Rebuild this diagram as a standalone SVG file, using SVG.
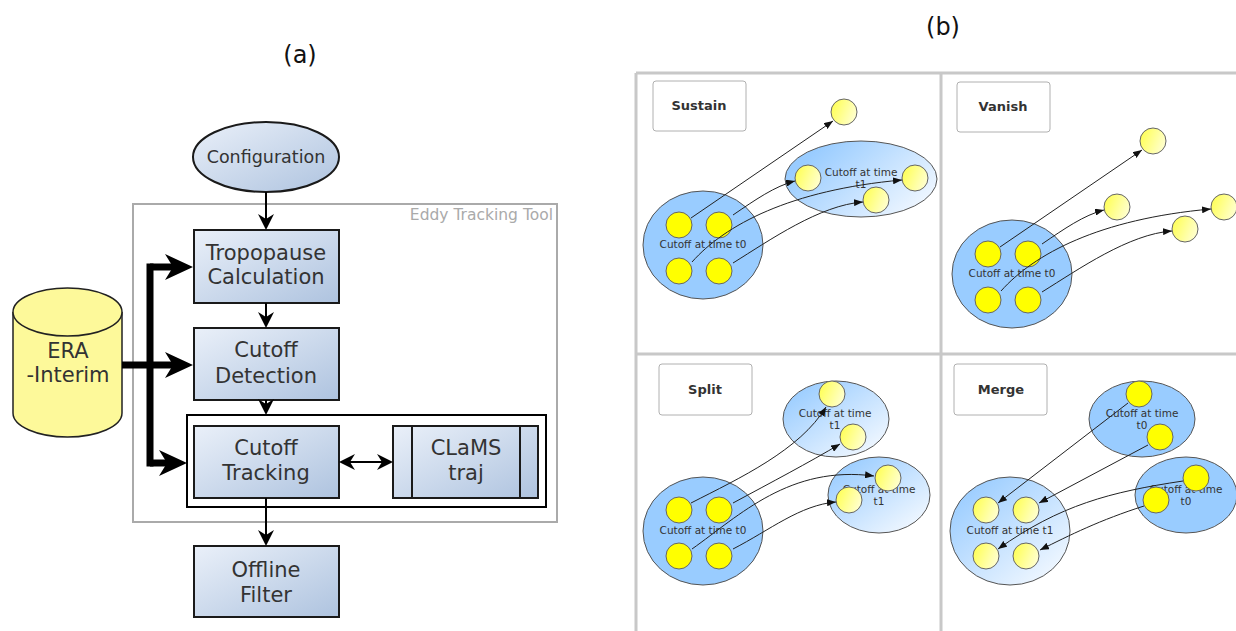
<svg xmlns="http://www.w3.org/2000/svg" width="1236" height="631" viewBox="0 0 1236 631">
<defs>
<linearGradient id="gBox" x1="0" y1="0" x2="1" y2="1"><stop offset="0" stop-color="#eaf0f9"/><stop offset="1" stop-color="#aec3df"/></linearGradient>
<linearGradient id="gEll" x1="0.1" y1="0.3" x2="1" y2="0.8"><stop offset="0" stop-color="#99ccff"/><stop offset="1" stop-color="#f4f9ff"/></linearGradient>
<linearGradient id="gEll2" x1="0.1" y1="0.1" x2="0.9" y2="0.95"><stop offset="0" stop-color="#99ccff"/><stop offset="1" stop-color="#f4f9ff"/></linearGradient>
<linearGradient id="gYel" x1="0" y1="0.3" x2="1" y2="0.7"><stop offset="0" stop-color="#ffff55"/><stop offset="1" stop-color="#ffffd5"/></linearGradient>
<marker id="aThin" viewBox="0 0 16 16" refX="9" refY="8" markerWidth="16" markerHeight="16" markerUnits="userSpaceOnUse" orient="auto"><path d="M0,0 L16,8 L0,16 L5,8 z" fill="#000"/></marker>
<marker id="aThinS" viewBox="0 0 16 16" refX="9" refY="8" markerWidth="16" markerHeight="16" markerUnits="userSpaceOnUse" orient="auto-start-reverse"><path d="M0,0 L16,8 L0,16 L5,8 z" fill="#000"/></marker>
<marker id="aThick" viewBox="0 0 28 26" refX="10" refY="13" markerWidth="28" markerHeight="26" markerUnits="userSpaceOnUse" orient="auto"><path d="M0,0 L28,13 L0,26 L8,13 z" fill="#000"/></marker>
<marker id="aSmall" viewBox="0 0 9 7" refX="9" refY="3.5" markerWidth="9" markerHeight="7" markerUnits="userSpaceOnUse" orient="auto"><path d="M0,0 L9,3.5 L0,7 z" fill="#111"/></marker>
</defs>
<style>
.box{fill:url(#gBox);stroke:#1a1a1a;stroke-width:2}
.bt{font-family:"DejaVu Sans",sans-serif;font-size:21px;fill:#333;text-anchor:middle}
.thin{fill:none;stroke:#000;stroke-width:2;marker-end:url(#aThin)}
.thick{fill:none;stroke:#000;stroke-width:7;marker-end:url(#aThick)}
.cap{font-family:"DejaVu Sans",sans-serif;font-size:24px;fill:#111;text-anchor:middle}
.grid{stroke:#c8c8c8;stroke-width:3;fill:none}
.lbl{fill:#fff;stroke:#b0b0b0;stroke-width:1}
.lt{font-family:"DejaVu Sans",sans-serif;font-size:13px;font-weight:bold;fill:#333;text-anchor:middle}
.t0{fill:#99ccff;stroke:#555;stroke-width:1}
.t1{fill:url(#gEll);stroke:#555;stroke-width:1}
.t1b{fill:url(#gEll2);stroke:#555;stroke-width:1}
.cy{fill:#ffff00;stroke:#666;stroke-width:1}
.cg{fill:url(#gYel);stroke:#666;stroke-width:1}
.st{font-family:"DejaVu Sans",sans-serif;font-size:10.5px;fill:#333;text-anchor:middle}
.ar{fill:none;stroke:#222;stroke-width:1;marker-end:url(#aSmall)}
</style>
<rect width="1236" height="631" fill="#fff"/>

<!-- Panel (a) -->
<text class="cap" x="300" y="63">(a)</text>
<g id="eddy-tool">
<rect x="133" y="204" width="424" height="318" fill="none" stroke="#aaaaaa" stroke-width="2"/>
<text x="553" y="220" font-family="DejaVu Sans, sans-serif" font-size="15.5px" fill="#aaaaaa" text-anchor="end">Eddy Tracking Tool</text>
</g>
<g id="configuration">
<ellipse cx="266" cy="157" rx="73" ry="35" fill="url(#gBox)" stroke="#1a1a1a" stroke-width="2"/>
<text x="266" y="163" font-family="DejaVu Sans, sans-serif" font-size="17.5px" fill="#333" text-anchor="middle">Configuration</text>
</g>
<g id="era-interim">
<path d="M13,312 V413 A54.5,24 0 0 0 122,413 V312" fill="#fdf99a" stroke="#222" stroke-width="1.5"/>
<ellipse cx="67.5" cy="312" rx="54.5" ry="24" fill="#fdf99a" stroke="#222" stroke-width="1.5"/>
<text class="bt" x="68" y="358" font-size="21.5px">ERA</text>
<text class="bt" x="68" y="382" font-size="21.5px">-Interim</text>
</g>
<g id="tropopause">
<rect class="box" x="194" y="230" width="145" height="73"/>
<text class="bt" x="266" y="260">Tropopause</text>
<text class="bt" x="266" y="284">Calculation</text>
</g>
<g id="detection">
<rect class="box" x="194" y="328" width="145" height="72"/>
<text class="bt" x="266" y="357">Cutoff</text>
<text class="bt" x="266" y="383">Detection</text>
</g>
<g id="tracking-group">
<rect x="187" y="415" width="359" height="92" fill="none" stroke="#000" stroke-width="2"/>
</g>
<g id="tracking">
<rect class="box" x="194" y="426" width="145" height="72"/>
<text class="bt" x="266" y="455">Cutoff</text>
<text class="bt" x="266" y="480">Tracking</text>
</g>
<g id="clams">
<rect class="box" x="393" y="426" width="145" height="72"/>
<line x1="412" y1="426" x2="412" y2="498" stroke="#1a1a1a" stroke-width="2"/>
<line x1="520" y1="426" x2="520" y2="498" stroke="#1a1a1a" stroke-width="2"/>
<text class="bt" x="466" y="455">CLaMS</text>
<text class="bt" x="466" y="480">traj</text>
</g>
<g id="offline">
<rect class="box" x="194" y="546" width="145" height="71"/>
<text class="bt" x="266" y="577">Offline</text>
<text class="bt" x="266" y="602">Filter</text>
</g>
<g id="connectors-a">
<path class="thin" d="M266,192 V223"/>
<path class="thin" d="M266,303 V321"/>
<path class="thin" d="M266,400 V408"/>
<path class="thin" d="M266,498 V539"/>
<path d="M346,462 H386" fill="none" stroke="#000" stroke-width="2" marker-start="url(#aThinS)" marker-end="url(#aThin)"/>
<path d="M150,263.5 V466.5" fill="none" stroke="#000" stroke-width="7"/>
<path class="thick" d="M150,267 H175"/>
<path class="thick" d="M122,365 H175"/>
<path class="thick" d="M150,463 H169"/>
</g>

<!-- Panel (b) -->
<text class="cap" x="943" y="35">(b)</text>
<g id="grid">
<path class="grid" d="M636,73 H1236 M636,73 V631 M941,73 V631 M636,354 H1236"/>
</g>

<g id="sustain">
<rect class="lbl" x="653" y="81" width="93" height="50" rx="3"/>
<text class="lt" x="699" y="110">Sustain</text>
<ellipse class="t0" cx="703" cy="245" rx="60" ry="54"/>
<text class="st" x="703" y="248">Cutoff at time t0</text>
<ellipse class="t1" cx="861" cy="179" rx="76" ry="38"/>
<text class="st" x="861" y="176">Cutoff at time</text>
<text class="st" x="861" y="188">t1</text>
<circle class="cy" cx="679" cy="225" r="13"/><circle class="cy" cx="719" cy="225" r="13"/>
<circle class="cy" cx="679" cy="271" r="13"/><circle class="cy" cx="719" cy="271" r="13"/>
<circle class="cg" cx="844" cy="112" r="13"/>
<circle class="cg" cx="808" cy="178" r="13"/><circle class="cg" cx="915" cy="178" r="13"/><circle class="cg" cx="876" cy="200" r="13"/>
<path class="ar" d="M691,218 L833,121"/>
<path class="ar" d="M733,215 C755,200 775,186 795,181"/>
<path class="ar" d="M692,262 C725,225 790,190 902,180"/>
<path class="ar" d="M733,263 C770,240 820,205 863,202"/>
</g>

<g id="vanish">
<rect class="lbl" x="957" y="82" width="93" height="50" rx="3"/>
<text class="lt" x="1003" y="111">Vanish</text>
<g transform="translate(309,29)">
<ellipse class="t0" cx="703" cy="245" rx="60" ry="54"/>
<text class="st" x="703" y="248">Cutoff at time t0</text>
<circle class="cy" cx="679" cy="225" r="13"/><circle class="cy" cx="719" cy="225" r="13"/>
<circle class="cy" cx="679" cy="271" r="13"/><circle class="cy" cx="719" cy="271" r="13"/>
<circle class="cg" cx="844" cy="112" r="13"/>
<circle class="cg" cx="808" cy="178" r="13"/><circle class="cg" cx="915" cy="178" r="13"/><circle class="cg" cx="876" cy="200" r="13"/>
<path class="ar" d="M691,218 L833,121"/>
<path class="ar" d="M733,215 C755,200 775,186 795,181"/>
<path class="ar" d="M692,262 C725,225 790,190 902,180"/>
<path class="ar" d="M733,263 C770,240 820,205 863,202"/>
</g>
</g>

<g id="split">
<rect class="lbl" x="659" y="364" width="93" height="51" rx="3"/>
<text class="lt" x="705" y="394">Split</text>
<ellipse class="t0" cx="703" cy="531" rx="60" ry="54"/>
<text class="st" x="703" y="534">Cutoff at time t0</text>
<ellipse class="t1b" cx="836" cy="419" rx="53" ry="38"/>
<text class="st" x="835" y="417">Cutoff at time</text>
<text class="st" x="835" y="429">t1</text>
<ellipse class="t1b" cx="879" cy="495" rx="51" ry="38"/>
<text class="st" x="879" y="493">Cutoff at time</text>
<text class="st" x="879" y="505">t1</text>
<circle class="cy" cx="679" cy="510" r="13"/><circle class="cy" cx="719" cy="510" r="13"/>
<circle class="cy" cx="679" cy="556" r="13"/><circle class="cy" cx="719" cy="556" r="13"/>
<circle class="cg" cx="832" cy="394" r="13"/><circle class="cg" cx="853" cy="437" r="13"/>
<circle class="cg" cx="888" cy="478" r="13"/><circle class="cg" cx="849" cy="500" r="13"/>
<path class="ar" d="M691,503 C740,478 800,450 826,407"/>
<path class="ar" d="M733,503 C770,483 810,462 840,444"/>
<path class="ar" d="M692,549 C740,515 790,465 874,476"/>
<path class="ar" d="M733,549 C770,530 800,505 836,502"/>
</g>

<g id="merge">
<rect class="lbl" x="954" y="364" width="93" height="51" rx="3"/>
<text class="lt" x="1001" y="394">Merge</text>
<ellipse class="t1b" cx="1010" cy="531" rx="60" ry="54"/>
<text class="st" x="1010" y="534">Cutoff at time t1</text>
<ellipse class="t0" cx="1142" cy="419" rx="53" ry="38"/>
<text class="st" x="1142" y="417">Cutoff at time</text>
<text class="st" x="1142" y="429">t0</text>
<ellipse class="t0" cx="1186" cy="495" rx="51" ry="38"/>
<text class="st" x="1186" y="493">Cutoff at time</text>
<text class="st" x="1186" y="505">t0</text>
<circle class="cg" cx="986" cy="510" r="13"/><circle class="cg" cx="1026" cy="510" r="13"/>
<circle class="cg" cx="986" cy="556" r="13"/><circle class="cg" cx="1026" cy="556" r="13"/>
<circle class="cy" cx="1139" cy="394" r="13"/><circle class="cy" cx="1160" cy="437" r="13"/>
<circle class="cy" cx="1196" cy="478" r="13"/><circle class="cy" cx="1156" cy="500" r="13"/>
<path class="ar" d="M1128,403 L998,503"/>
<path class="ar" d="M1148,445 L1039,503"/>
<path class="ar" d="M1183,481 C1110,492 1060,505 998,549"/>
<path class="ar" d="M1144,506 C1100,520 1070,535 1040,550"/>
</g>
</svg>
